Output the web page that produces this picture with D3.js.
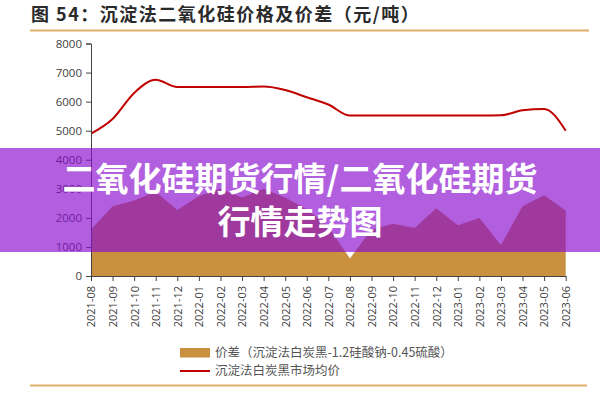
<!DOCTYPE html>
<html><head><meta charset="utf-8">
<script src="https://cdn.jsdelivr.net/npm/d3@7"></script>
<style>
html,body{margin:0;padding:0;background:#fff;}
svg{display:block;}
</style>
</head><body>
<svg id="chart" width="600" height="400"></svg>
<script>
const months = ["2021-08","2021-09","2021-10","2021-11","2021-12","2022-01","2022-02","2022-03","2022-04","2022-05","2022-06","2022-07","2022-08","2022-09","2022-10","2022-11","2022-12","2023-01","2023-02","2023-03","2023-04","2023-05","2023-06"];
const spread = [1600,2400,2600,2900,2270,2750,3000,2700,3000,2700,2300,1700,600,1600,1800,1650,2330,1750,2000,1070,2400,2780,2250];
const price  = [4900,5400,6300,6750,6500,6500,6500,6500,6520,6400,6150,5900,5520,5520,5520,5520,5520,5520,5520,5530,5700,5750,5000];
const yTicks = [0,1000,2000,3000,4000,5000,6000,7000,8000];
const titleText = "图 54：沉淀法二氧化硅价格及价差（元/吨）";
const legendSpread = "价差（沉淀法白炭黑-1.2硅酸钠-0.45硫酸）";
const legendPrice = "沉淀法白炭黑市场均价";
const overlayLines = ["二氧化硅期货行情/二氧化硅期货","行情走势图"];

const svg = d3.select("#chart");
const cjk = "'Noto Sans CJK SC','Noto Sans',sans-serif";

const x = d3.scalePoint().domain(months).range([91, 565.7]);
const y = d3.scaleLinear().domain([0, 8000]).range([276, 43.5]);

// title
svg.append("text").attr("x", 31).attr("y", 21)
  .attr("font-family", cjk).attr("font-size", 18).attr("font-weight", "bold")
  .attr("letter-spacing", 1.5)
  .attr("fill", "#2a2a2a").text(titleText);
svg.append("line").attr("x1", 30).attr("x2", 589).attr("y1", 30.5).attr("y2", 30.5)
  .attr("stroke", "#dcae68").attr("stroke-width", 2);

// spread area
const area = d3.area().x((d,i)=>x(months[i])).y0(y(0)).y1(d=>y(d)).curve(d3.curveLinear);
svg.append("path").datum(spread).attr("d", area).attr("fill", "#c8903f");

// price line
const line = d3.line().x((d,i)=>x(months[i])).y(d=>y(d)).curve(d3.curveMonotoneX);
svg.append("path").datum(price).attr("d", line).attr("fill", "none")
  .attr("stroke", "#c00000").attr("stroke-width", 2);

// axes
const yAxis = svg.append("g").attr("transform", "translate(91,0)")
  .call(d3.axisLeft(y).tickValues(yTicks).tickSize(5).tickPadding(4).tickFormat(d3.format("d")));
yAxis.selectAll("text").attr("font-family", "'Open Sans',sans-serif").attr("font-size", 11.5).attr("fill", "#404040");
yAxis.selectAll("line,path").attr("stroke", "#444");

const xAxis = svg.append("g").attr("transform", "translate(0,276)")
  .call(d3.axisBottom(x).tickSize(5).tickPadding(4).tickSizeOuter(0));
xAxis.selectAll("text").attr("font-family", "'Open Sans',sans-serif").attr("font-size", 11).attr("fill", "#404040")
  .attr("text-anchor", "end").attr("transform", "rotate(-90)").attr("x", -10).attr("y", 0).attr("dy", "0.35em");
xAxis.selectAll("line,path").attr("stroke", "#444");

// legend
svg.append("rect").attr("x", 180).attr("y", 348).attr("width", 30).attr("height", 9.5).attr("fill", "#c8903f");
svg.append("text").attr("x", 215).attr("y", 357).attr("font-family", cjk).attr("font-size", 12.5)
  .attr("fill", "#555").text(legendSpread);
svg.append("line").attr("x1", 180).attr("x2", 210).attr("y1", 371).attr("y2", 371)
  .attr("stroke", "#c00000").attr("stroke-width", 2);
svg.append("text").attr("x", 215).attr("y", 375).attr("font-family", cjk).attr("font-size", 12.5)
  .attr("fill", "#555").text(legendPrice);
svg.append("line").attr("x1", 30).attr("x2", 587).attr("y1", 385.5).attr("y2", 385.5)
  .attr("stroke", "#dcae68").attr("stroke-width", 2);

// overlay band
svg.append("rect").attr("x", 0).attr("y", 148).attr("width", 600).attr("height", 104)
  .attr("fill", "rgb(138,12,206)").attr("fill-opacity", 0.66);
svg.selectAll("text.ov").data(overlayLines).join("text").attr("class", "ov")
  .attr("x", 300).attr("y", (d,i)=>190.5 + i*43)
  .attr("text-anchor", "middle").attr("font-family", cjk).attr("font-size", 33)
  .attr("font-weight", "bold").attr("fill", "#fff").text(d=>d);
</script>
</body></html>
